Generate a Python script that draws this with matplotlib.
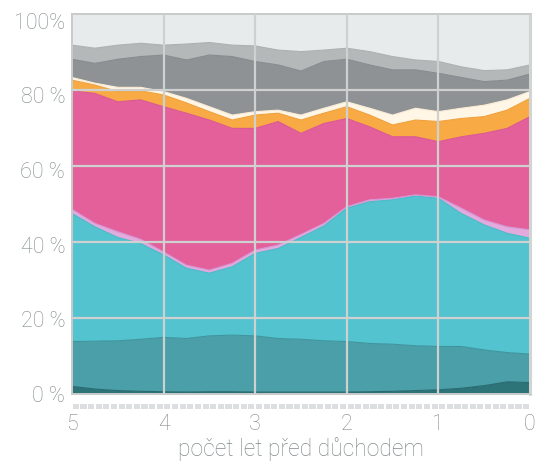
import matplotlib.pyplot as plt
import numpy as np
from matplotlib.patches import Rectangle
import matplotlib.transforms as mtransforms

# years before retirement, quarterly steps
years = [5, 4.75, 4.5, 4.25, 4, 3.75, 3.5, 3.25, 3, 2.75, 2.5,
         2.25, 2, 1.75, 1.5, 1.25, 1, 0.75, 0.5, 0.25, 0]

# shares in percent, bottom to top
dark_teal = [2.0, 1.3, 0.9, 0.7, 0.6, 0.5, 0.6, 0.6, 0.5, 0.5, 0.5,
             0.5, 0.5, 0.6, 0.7, 0.9, 1.1, 1.5, 2.2, 3.2, 3.0]
mid_teal = [11.8, 12.6, 13.1, 13.7, 14.3, 14.1, 14.7, 14.9, 14.8, 14.1, 13.9,
            13.5, 13.3, 12.7, 12.4, 11.8, 11.4, 11.0, 9.4, 7.7, 7.5]
cyan = [33.7, 30.1, 27.2, 25.2, 21.7, 18.5, 16.5, 18.0, 21.7, 23.7, 26.8,
        30.2, 35.1, 37.3, 38.0, 39.4, 39.0, 35.0, 32.9, 31.4, 30.5]
lavender = [1.1, 0.9, 1.5, 1.1, 0.8, 0.8, 0.8, 0.9, 0.9, 0.9, 0.8,
            0.7, 0.4, 0.5, 0.4, 0.3, 0.4, 1.4, 1.3, 1.7, 2.2]
pink = [31.2, 34.2, 34.2, 36.7, 38.2, 40.0, 39.5, 35.5, 32.0, 32.5, 26.6,
        26.3, 23.2, 19.2, 16.2, 15.3, 14.5, 18.8, 22.8, 25.9, 29.8]
orange = [2.8, 2.2, 2.7, 2.4, 3.1, 2.7, 2.2, 2.2, 3.5, 2.2, 3.5,
          2.7, 3.1, 3.1, 3.1, 4.4, 5.3, 4.8, 4.4, 4.8, 4.8]
cream = [0.7, 0.5, 1.1, 0.9, 0.9, 1.2, 1.3, 1.3, 0.9, 0.8, 1.3,
         1.3, 1.3, 1.8, 2.6, 3.1, 2.6, 2.7, 3.0, 2.7, 1.8]
dark_gray = [4.8, 5.2, 7.4, 8.1, 9.6, 10.1, 13.6, 15.4, 13.2, 11.9, 11.6,
             12.3, 11.2, 11.4, 11.9, 10.1, 10.1, 8.1, 6.2, 5.2, 4.6]
mid_gray = [3.7, 4.0, 3.7, 3.5, 2.6, 4.2, 3.3, 3.0, 4.1, 3.9, 5.1,
            3.0, 2.9, 3.5, 3.5, 2.6, 3.1, 2.8, 2.9, 2.7, 2.4]
light_gray = [8.2, 9.0, 8.2, 7.7, 8.2, 7.9, 7.5, 8.2, 8.4, 9.5, 9.9,
              9.5, 9.0, 9.9, 11.2, 12.1, 12.5, 13.9, 14.9, 14.7, 13.4]

layers = [dark_teal, mid_teal, cyan, lavender, pink, orange, cream,
          dark_gray, mid_gray, light_gray]
fills = ['#2d7479', '#4a9fa8', '#52c3cf', '#e2aadd', '#e3609b', '#f8ab45',
         '#fff6e6', '#8e9294', '#b4b8b9', '#e8ebec']
edges = ['#276a6f', '#3f959d', '#49bac6', '#d596d3', '#db5892', '#f0a03c',
         '#fbecd6', '#878b8d', '#acb0b1', '#e8ebec']

ytick_vals = [0, 20, 40, 60, 80, 100]
ytick_labels = ['0 %', '20 %', '40 %', '60 %', '80 %', '100%']
xtick_vals = [5, 4, 3, 2, 1, 0]
months = np.arange(60)

label_color = '#828a8c'
grid_color = '#cfd1d1'
font = dict(family=['Roboto', 'DejaVu Sans'], weight='light', color=label_color)

fig = plt.figure(figsize=(5.42, 4.62), dpi=100)
ax = fig.add_axes([72 / 542, 68 / 462, 458 / 542, 380 / 462])
ax.set_facecolor(fills[-1])

base = np.zeros(len(years))
for vals, fc, ec in zip(layers, fills, edges):
    top = base + np.array(vals)
    ax.fill_between(years, base, top, facecolor=fc, edgecolor='none', lw=0)
    ax.plot(years, top, color=ec, lw=0.8)
    base = top

ax.set_xlim(5, 0)
ax.set_ylim(0, 100)

for v in ytick_vals[1:-1]:
    ax.axhline(v, color=grid_color, lw=1.6, zorder=3)
for v in xtick_vals[1:-1]:
    ax.axvline(v, color=grid_color, lw=1.6, zorder=3)

for side in ['left', 'top', 'bottom']:
    ax.spines[side].set_color('#c9cbcb')
    ax.spines[side].set_linewidth(1.4)
ax.spines['right'].set_color('#d2d4d4')
ax.spines['right'].set_linewidth(2.2)

ax.set_xticks([])
ax.set_yticks([])

# y labels sit a little under their grid lines
for v, lab in zip(ytick_vals, ytick_labels):
    ax.text(-0.015, (v * 0.982 - 0.6) / 100, lab, transform=ax.transAxes,
            ha='right', va='center', fontsize=15.5, **font)

# monthly tick strip below the plot
strip = mtransforms.blended_transform_factory(ax.transData, ax.transAxes)
for m in months:
    ax.add_patch(Rectangle((5 - m / 12 - 1 / 12 * 0.1, -0.04), -1 / 12 * 0.8, 0.015,
                           transform=strip, color='#dcdedf', clip_on=False, lw=0))

for v in xtick_vals:
    ax.text(v, -0.08, str(v), transform=strip, ha='center', va='center',
            fontsize=15.5, **font)

ax.text(0.5, -0.146, 'počet let před důchodem', transform=ax.transAxes,
        ha='center', va='center', fontsize=16.5, **font)

fig.savefig('out.png', dpi=100)
